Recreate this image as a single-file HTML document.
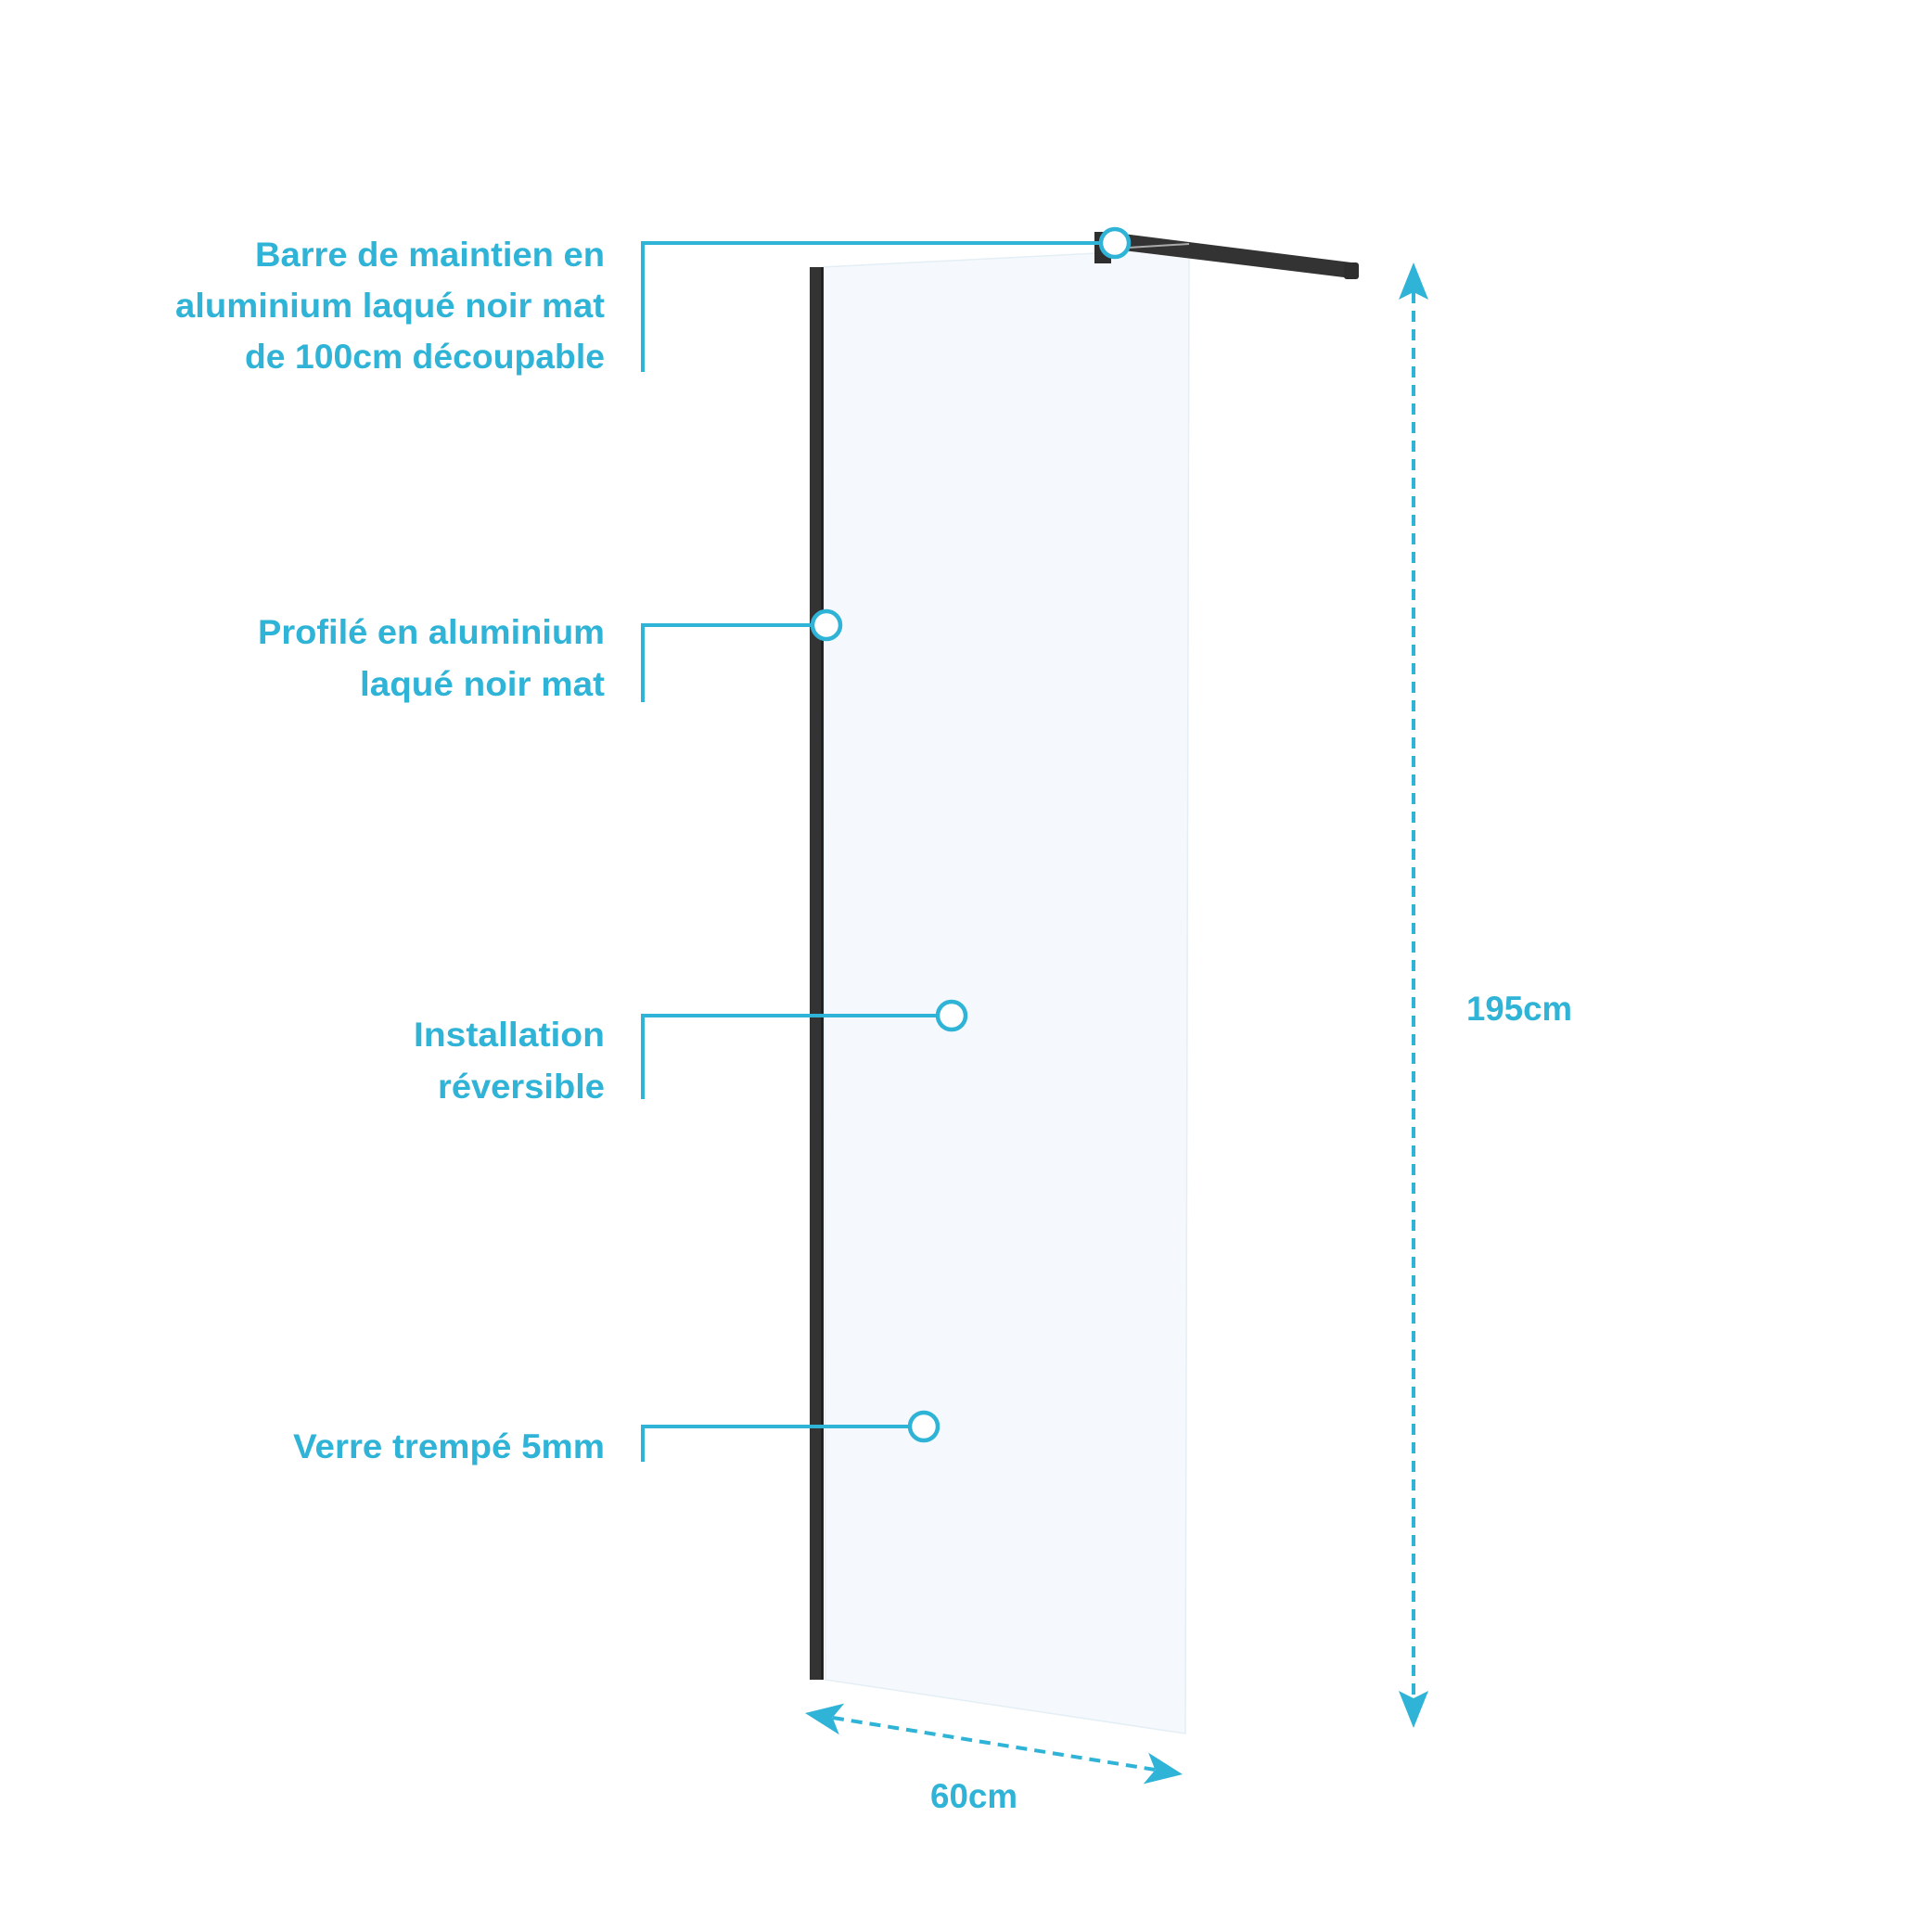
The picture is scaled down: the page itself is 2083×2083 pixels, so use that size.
<!DOCTYPE html>
<html><head><meta charset="utf-8"><style>
html,body{margin:0;padding:0;background:#fff;}
svg{display:block;}
text{font-family:"Liberation Sans",sans-serif;font-weight:bold;fill:#2fb3d6;font-size:37px;}
</style></head><body>
<svg width="2083" height="2083" viewBox="0 0 2083 2083" xmlns="http://www.w3.org/2000/svg">
<!-- glass -->
<polygon points="887,288 1282,268 1278,1869 890,1811" fill="#f5f9fd" stroke="#e4eef5" stroke-width="1.5"/>
<!-- profile -->
<rect x="873" y="288" width="15" height="1523" fill="#333"/>
<rect x="885" y="288" width="3" height="1523" fill="#222"/>
<!-- bar -->
<rect x="1180" y="250" width="18" height="34" fill="#2e2e2e"/>
<polygon points="1195,250 1457,283 1457,300 1195,268" fill="#333"/>
<rect x="1449" y="283" width="16" height="18" rx="3" fill="#2e2e2e"/>
<line x1="1200" y1="268" x2="1282" y2="263" stroke="#aaa" stroke-width="2"/>
<!-- leaders -->
<g stroke="#2fb3d6" stroke-width="4" fill="none">
<polyline points="693,401 693,262 1187,262"/>
<polyline points="693,757 693,674 876,674"/>
<polyline points="693,1185 693,1095 1011,1095"/>
<polyline points="693,1576 693,1538 981,1538"/>
</g>
<g stroke="#2fb3d6" stroke-width="4.5" fill="#fff">
<circle cx="1202" cy="262" r="15"/>
<circle cx="891" cy="674" r="15"/>
<circle cx="1026" cy="1095" r="15"/>
<circle cx="996" cy="1538" r="15"/>
</g>
<!-- dims -->
<g stroke="#2fb3d6" stroke-width="4" stroke-dasharray="12,8" fill="none">
<line x1="1524" y1="315" x2="1524" y2="1833"/>
<line x1="898" y1="1852" x2="1245" y2="1908"/>
</g>
<g fill="#2fb3d6">
<polygon points="1524,283 1508,323 1524,315 1540,323"/>
<polygon points="1524,1863 1508,1823 1524,1831 1540,1823"/>
<polygon points="868,1847 910.2,1836.6 897.6,1851.8 904.8,1870.2"/>
<polygon points="1275,1913 1232.8,1923.4 1245.4,1908.2 1238.2,1889.8"/>
</g>
<!-- labels -->
<g text-anchor="end">
<text x="652" y="287" textLength="377" lengthAdjust="spacingAndGlyphs">Barre de maintien en</text>
<text x="652" y="342" textLength="463" lengthAdjust="spacingAndGlyphs">aluminium laqué noir mat</text>
<text x="652" y="397" textLength="388" lengthAdjust="spacingAndGlyphs">de 100cm découpable</text>
<text x="652" y="694" textLength="374" lengthAdjust="spacingAndGlyphs">Profilé en aluminium</text>
<text x="652" y="750" textLength="264" lengthAdjust="spacingAndGlyphs">laqué noir mat</text>
<text x="652" y="1128" textLength="206" lengthAdjust="spacingAndGlyphs">Installation</text>
<text x="652" y="1184" textLength="180" lengthAdjust="spacingAndGlyphs">réversible</text>
<text x="652" y="1572" textLength="336" lengthAdjust="spacingAndGlyphs">Verre trempé 5mm</text>
</g>
<text x="1581" y="1100" textLength="114" lengthAdjust="spacingAndGlyphs">195cm</text>
<text x="1003" y="1949" textLength="94" lengthAdjust="spacingAndGlyphs">60cm</text>
</svg>
</body></html>
